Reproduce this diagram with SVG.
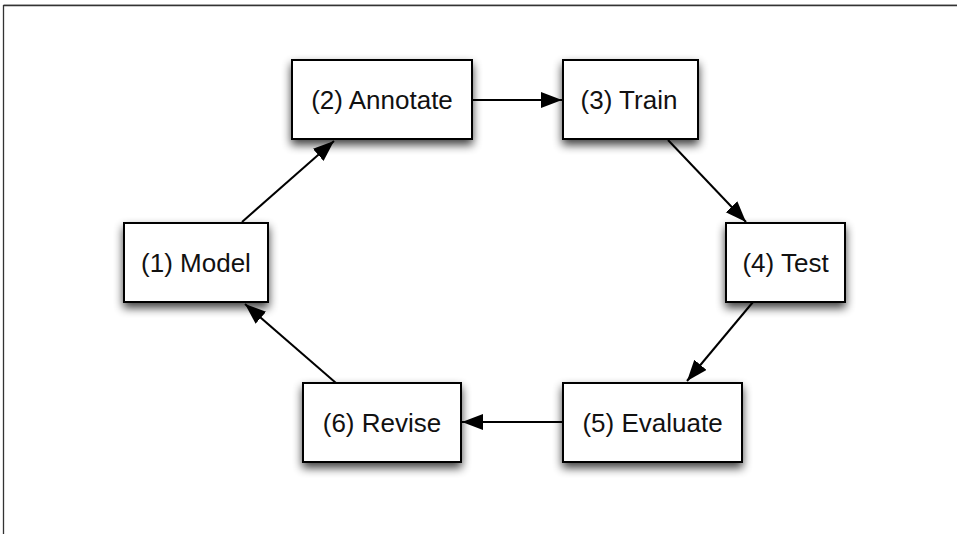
<svg xmlns="http://www.w3.org/2000/svg" width="957" height="534" viewBox="0 0 957 534">
<style>
.box{fill:#fff;stroke:#000;stroke-width:2}
.lbl{font-family:"Liberation Sans",Arial,sans-serif;font-size:26px;fill:#111;text-anchor:middle}
.edge{stroke:#000;stroke-width:2;fill:none;marker-end:url(#ah)}
</style>
<defs>
<filter id="sh" x="-30%" y="-30%" width="160%" height="170%" color-interpolation-filters="sRGB">
<feGaussianBlur in="SourceAlpha" stdDeviation="5"/>
<feOffset dx="0" dy="5" result="b"/>
<feComponentTransfer in="b" result="s"><feFuncA type="linear" slope="0.75"/></feComponentTransfer>
<feMerge><feMergeNode in="s"/><feMergeNode in="SourceGraphic"/></feMerge>
</filter>
<marker id="ah" markerUnits="userSpaceOnUse" markerWidth="24" markerHeight="18" refX="21" refY="8" orient="auto">
<path d="M0,0 L21,8 L0,16 z" fill="#000"/>
</marker>
</defs>
<rect width="957" height="534" fill="#fff"/>
<g id="frame">
<line x1="3.5" y1="4.5" x2="957" y2="4.5" stroke="#ccc" stroke-width="1"/>
<line x1="3.5" y1="5.5" x2="957" y2="5.5" stroke="#333" stroke-width="1.3"/>
<line x1="3.5" y1="5" x2="3.5" y2="534" stroke="#333" stroke-width="1.3"/>
</g>
<g id="connectors">
<line class="edge" x1="472" y1="100" x2="562" y2="100"/>
<line class="edge" x1="242" y1="222" x2="334" y2="141"/>
<line class="edge" x1="668" y1="140" x2="746" y2="222"/>
<line class="edge" x1="753" y1="302" x2="687" y2="381"/>
<line class="edge" x1="563" y1="422" x2="462" y2="422"/>
<line class="edge" x1="336" y1="383" x2="245" y2="304"/>
</g>
<g id="n1"><rect class="box" filter="url(#sh)" x="124" y="223" width="144" height="79"/><text class="lbl" x="196" y="272">(1) Model</text></g>
<g id="n2"><rect class="box" filter="url(#sh)" x="292" y="60" width="180" height="79"/><text class="lbl" x="382" y="108.5">(2) Annotate</text></g>
<g id="n3"><rect class="box" filter="url(#sh)" x="563" y="60" width="135" height="79"/><text class="lbl" x="629" y="108.5">(3) Train</text></g>
<g id="n4"><rect class="box" filter="url(#sh)" x="726" y="223" width="119" height="79"/><text class="lbl" x="785.5" y="272">(4) Test</text></g>
<g id="n5"><rect class="box" filter="url(#sh)" x="563" y="383" width="179" height="79"/><text class="lbl" x="652.5" y="432">(5) Evaluate</text></g>
<g id="n6"><rect class="box" filter="url(#sh)" x="303" y="383" width="158" height="79"/><text class="lbl" x="382" y="432">(6) Revise</text></g>
</svg>
